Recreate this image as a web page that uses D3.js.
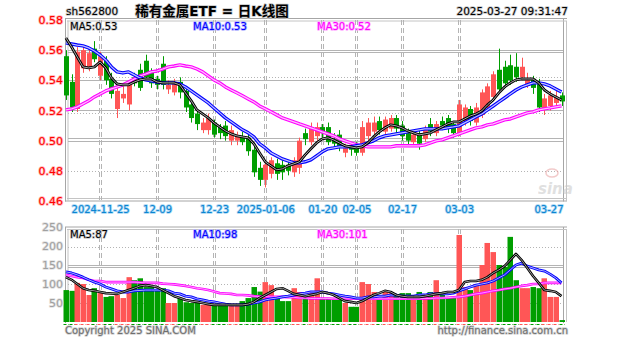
<!DOCTYPE html>
<html>
<head>
<meta charset="utf-8">
<script src="https://cdn.jsdelivr.net/npm/d3@7"></script>
<style>
  html, body { margin: 0; padding: 0; background: #fff; }
  svg { display: block; }
  text { font-family: "DejaVu Sans", "Noto Sans CJK SC", sans-serif; }
</style>
</head>
<body>
<svg id="chart" width="627" height="342"></svg>
<script>
// Trading days shown on the daily K-line
const dates = [
  "2024-11-15","2024-11-18","2024-11-19","2024-11-20","2024-11-21","2024-11-22","2024-11-25","2024-11-26","2024-11-27","2024-11-28","2024-11-29",
  "2024-12-02","2024-12-03","2024-12-04","2024-12-05","2024-12-06","2024-12-09","2024-12-10","2024-12-11","2024-12-12","2024-12-13",
  "2024-12-16","2024-12-17","2024-12-18","2024-12-19","2024-12-20","2024-12-23","2024-12-24","2024-12-25","2024-12-26","2024-12-27",
  "2024-12-30","2024-12-31","2025-01-02","2025-01-03","2025-01-06","2025-01-07","2025-01-08","2025-01-09","2025-01-10","2025-01-13",
  "2025-01-14","2025-01-15","2025-01-16","2025-01-17","2025-01-20","2025-01-21","2025-01-22","2025-01-23","2025-01-24","2025-01-27",
  "2025-02-05","2025-02-06","2025-02-07","2025-02-10","2025-02-11","2025-02-12","2025-02-13","2025-02-14","2025-02-17","2025-02-18",
  "2025-02-19","2025-02-20","2025-02-21","2025-02-24","2025-02-25","2025-02-26","2025-02-27","2025-02-28","2025-03-03","2025-03-04",
  "2025-03-05","2025-03-06","2025-03-07","2025-03-10","2025-03-11","2025-03-12","2025-03-13","2025-03-14","2025-03-17","2025-03-18",
  "2025-03-19","2025-03-20","2025-03-21","2025-03-24","2025-03-25","2025-03-26","2025-03-27"
];

const openPrices = [
  .556,.539,.521,.548,.549,.561,.543,.553,.541,.521,.528,.524,.542,.547,.553,.545,.541,.551,.534,.532,
  .539,.533,.524,.518,.507,.507,.512,.509,.510,.500,.500,.503,.502,.494,.482,.474,.478,.485,.484,.484,
  .479,.482,.505,.499,.503,.509,.509,.501,.504,.492,.497,.497,.492,.503,.506,.513,.506,.508,.515,.510,
  .505,.499,.505,.501,.511,.505,.513,.515,.511,.505,.513,.521,.512,.517,.522,.529,.547,.549,.550,.549,
  .542,.537,.541,.538,.521,.523,.525,.530
];
const highPrices = [
  .560,.544,.562,.563,.561,.566,.559,.556,.545,.536,.536,.540,.545,.551,.557,.548,.543,.556,.540,.541,
  .542,.535,.527,.521,.515,.518,.514,.511,.513,.510,.506,.506,.504,.496,.486,.486,.489,.488,.487,.486,
  .489,.502,.508,.512,.512,.511,.512,.505,.507,.498,.499,.499,.513,.515,.516,.516,.516,.517,.517,.513,
  .508,.507,.507,.510,.515,.513,.516,.517,.513,.527,.524,.523,.525,.534,.538,.546,.561,.553,.557,.558,
  .555,.545,.543,.541,.531,.533,.533,.532
];
const lowPrices = [
  .527,.519,.519,.545,.546,.552,.540,.537,.528,.515,.525,.520,.536,.533,.540,.535,.534,.534,.531,.530,
  .528,.519,.512,.507,.505,.504,.502,.501,.500,.497,.497,.497,.490,.476,.470,.469,.475,.474,.474,.477,
  .476,.478,.497,.497,.500,.502,.497,.495,.493,.489,.490,.490,.490,.500,.504,.504,.503,.506,.505,.500,
  .497,.497,.494,.499,.503,.503,.507,.505,.502,.503,.510,.510,.510,.515,.520,.527,.532,.535,.537,.539,
  .540,.535,.531,.519,.517,.520,.522,.523
];
const closePrices = [
  .530,.522,.559,.560,.558,.554,.556,.540,.531,.533,.531,.537,.538,.535,.542,.538,.537,.537,.537,.538,
  .532,.522,.515,.511,.512,.515,.504,.505,.503,.507,.503,.499,.493,.479,.474,.484,.487,.478,.479,.480,
  .487,.500,.501,.508,.509,.505,.499,.498,.496,.495,.494,.492,.509,.512,.512,.507,.514,.515,.508,.503,
  .500,.504,.498,.508,.506,.511,.510,.508,.505,.524,.522,.513,.522,.532,.536,.544,.534,.538,.540,.542,
  .549,.541,.535,.522,.528,.530,.529,.526
];

// Volume, in units of 10,000 shares
const volumes = [
  84,82,103,100,71,89,76,66,68,71,63,118,110,115,92,92,84,89,50,50,
  63,52,50,50,45,45,45,47,48,45,45,55,63,92,80,105,97,63,55,55,
  89,79,71,76,115,63,62,60,60,50,40,40,105,100,79,63,79,79,71,76,
  76,68,79,71,79,110,76,66,66,229,92,84,100,150,208,184,150,145,224,110,
  89,89,92,89,115,66,66,5
];

// Price moving averages
const ma5 = [
  .5681,.5621,.5555,.5489,.5482,.5489,.5522,.5482,.5416,.5376,.5370,.5370,.5389,.5403,.5409,.5409,.5389,.5383,.5383,.5383,
  .5370,.5317,.5264,.5204,.5177,.5151,.5118,.5091,.5065,.5045,.5032,.5025,.5019,.4979,.4919,.4860,.4833,.4807,.4813,.4833,
  .4846,.4860,.4906,.4946,.4985,.5012,.5019,.5005,.4985,.4966,.4959,.4952,.4959,.4985,.5025,.5058,.5085,.5105,.5098,.5085,
  .5065,.5052,.5038,.5045,.5052,.5072,.5091,.5111,.5124,.5124,.5144,.5164,.5177,.5197,.5237,.5270,.5317,.5356,.5383,.5403,
  .5409,.5409,.5409,.5383,.5336,.5310,.5290,.5270
];
const ma10 = [
  .5648,.5641,.5634,.5628,.5615,.5595,.5568,.5535,.5489,.5456,.5449,.5456,.5436,.5416,.5403,.5396,.5389,.5383,.5383,.5383,
  .5376,.5356,.5330,.5303,.5277,.5250,.5217,.5184,.5151,.5125,.5098,.5072,.5052,.5025,.4979,.4952,.4919,.4899,.4879,.4866,
  .4853,.4853,.4860,.4873,.4899,.4926,.4946,.4952,.4959,.4959,.4959,.4966,.4972,.4985,.4999,.5019,.5032,.5038,.5045,.5052,
  .5058,.5065,.5072,.5078,.5078,.5078,.5078,.5085,.5091,.5098,.5118,.5138,.5158,.5177,.5204,.5230,.5257,.5283,.5310,.5336,
  .5356,.5370,.5383,.5383,.5376,.5363,.5343,.5323
];
const ma30 = [
  .5204,.5211,.5224,.5244,.5264,.5290,.5310,.5330,.5343,.5356,.5370,.5389,.5409,.5429,.5442,.5456,.5462,.5475,.5489,.5495,
  .5502,.5495,.5489,.5475,.5456,.5429,.5403,.5383,.5356,.5336,.5317,.5297,.5277,.5257,.5230,.5211,.5191,.5171,.5151,.5138,
  .5125,.5111,.5098,.5085,.5072,.5058,.5045,.5032,.5012,.4999,.4985,.4972,.4966,.4959,.4959,.4959,.4959,.4959,.4966,.4966,
  .4966,.4966,.4966,.4972,.4985,.4999,.5005,.5019,.5032,.5045,.5058,.5072,.5085,.5091,.5105,.5111,.5125,.5138,.5144,.5158,
  .5171,.5184,.5191,.5204,.5211,.5217,.5224,.5231
];

// Volume moving averages
const volMa5 = [
  118,111,100,89,84,82,79,76,75,74,79,84,89,95,97,95,92,84,76,68,
  63,58,55,53,50,47,45,45,45,45,45,45,47,53,63,71,79,87,89,82,
  74,71,68,71,74,79,76,71,63,55,53,50,55,63,71,76,82,79,71,68,
  66,66,66,68,71,74,76,79,79,84,105,108,108,111,118,129,137,147,163,179,
  163,142,121,103,84,82,79,68
];
const volMa10 = [
  132,129,124,118,111,105,100,92,87,82,79,79,82,83,84,84,84,84,82,76,
  74,68,66,61,58,55,53,50,47,45,45,45,47,50,53,58,61,63,66,68,
  71,74,76,79,79,79,76,74,71,68,66,63,63,66,66,68,68,71,71,68,
  68,68,71,71,74,74,74,74,76,82,87,92,97,100,103,108,116,124,137,150,
  155,147,142,137,134,126,116,103
];
const volMa30 = [
  124,121,118,116,111,108,108,105,105,105,105,105,105,104,103,103,103,101,100,99,
  97,95,92,89,87,84,80,76,75,74,71,71,70,68,67,67,66,66,66,65,
  65,63,63,62,62,62,62,61,61,61,61,61,61,61,61,61,61,61,61,61,
  61,61,61,62,62,63,63,64,65,66,68,71,74,76,79,82,84,87,89,92,
  95,97,100,100,103,103,103,103
];

const priceTicks = [0.58, 0.56, 0.54, 0.52, 0.50, 0.48, 0.46];
const volumeTicks = [250, 200, 150, 100, 50];
const dateTicks = ["2024-11-25","2024-12-09","2024-12-23","2025-01-06","2025-01-20","2025-02-05","2025-02-17","2025-03-03","2025-03-27"];
const dateTickLabels = ["2024-11-25","12-09","12-23","2025-01-06","01-20","02-05","02-17","03-03","03-27"];

const priceLegend = ["MA5:0.53", "MA10:0.53", "MA30:0.52"];
const volumeLegend = ["MA5:87", "MA10:98", "MA30:101"];

// ---------------------------------------------------------------
const svg = d3.select("#chart");
const UP = "#ff5656", DOWN = "#009e00";
const GRID = "#b4b4b4";

const x = d3.scalePoint().domain(dates).range([65.9, 561.5]);
const y = d3.scaleLinear().domain([0.46, 0.58]).range([201, 20]);
const yv = d3.scaleLinear().domain([0, 250]).range([322, 227]);

const candles = dates.map((d, i) => ({
  date: d, o: openPrices[i], h: highPrices[i], l: lowPrices[i], c: closePrices[i], v: volumes[i]
}));
const colorOf = d => d.c >= d.o ? UP : DOWN;

// Panel frames (double grey rules)
function frame(top, bottom, withBottom) {
  const g = svg.append("g").attr("stroke", "#a6a6a6").attr("fill", "none");
  [[65.5, 68], [563.5, 566.5]].forEach(([a, b]) => {
    g.append("line").attr("x1", a).attr("x2", a).attr("y1", top - 1).attr("y2", bottom + 1);
    g.append("line").attr("x1", b).attr("x2", b).attr("y1", top + 1).attr("y2", bottom).attr("stroke", "#c4c4c4");
  });
  g.append("line").attr("x1", 65).attr("x2", 567).attr("y1", top - 1).attr("y2", top - 1);
  g.append("line").attr("x1", 67).attr("x2", 566).attr("y1", top + 1.5).attr("y2", top + 1.5).attr("stroke", "#c4c4c4");
  if (withBottom) {
    g.append("line").attr("x1", 65).attr("x2", 567).attr("y1", bottom + 0.5).attr("y2", bottom + 0.5);
    g.append("line").attr("x1", 67).attr("x2", 566).attr("y1", bottom - 2).attr("y2", bottom - 2).attr("stroke", "#c4c4c4");
  }
}
frame(19.5, 200.5, true);
frame(228, 322, false);

// Horizontal grid rules of the price panel
const priceGrid = [
  [0.56, 0, "solid"], [0.56, 2, "solid"], [0.54, -3, "dot"], [0.54, 0, "solid"],
  [0.52, 0, "solid"], [0.52, 3, "dot"], [0.50, -3, "solid"], [0.50, 0, "solid"], [0.48, 0, "dot"]
];
svg.append("g").selectAll("line").data(priceGrid).join("line")
  .attr("x1", 68).attr("x2", 563)
  .attr("y1", d => Math.round(y(d[0]) + d[1]) + 0.5)
  .attr("y2", d => Math.round(y(d[0]) + d[1]) + 0.5)
  .attr("stroke", GRID)
  .attr("stroke-dasharray", d => d[2] === "dot" ? "1,2" : null);

// Horizontal grid rules of the volume panel
const volumeGrid = [[200, 1, "dot"], [150, 0, "solid"], [150, 2, "solid"], [100, 0, "dot"], [50, 0, "dot"]];
svg.append("g").selectAll("line").data(volumeGrid).join("line")
  .attr("x1", 68).attr("x2", 563)
  .attr("y1", d => Math.round(yv(d[0]) + d[1]) + 0.5)
  .attr("y2", d => Math.round(yv(d[0]) + d[1]) + 0.5)
  .attr("stroke", GRID)
  .attr("stroke-dasharray", d => d[2] === "dot" ? "1,2" : null);

// Vertical dashed rules at the labelled dates
const vTicks = dateTicks.slice(0, -1);
[[20, 200], [229, 322]].forEach(([t, b]) => {
  const g = svg.append("g").attr("stroke", GRID).attr("stroke-dasharray", "5,3");
  vTicks.forEach(d => {
    const cx = Math.round(x(d));
    [-1, 1].forEach(off => {
      g.append("line").attr("x1", cx + off + 0.5).attr("x2", cx + off + 0.5).attr("y1", t).attr("y2", b);
    });
  });
});

// Watermark
const wm = svg.append("g").attr("opacity", 0.55);
wm.append("ellipse").attr("cx", 552).attr("cy", 173).attr("rx", 6).attr("ry", 4)
  .attr("fill", "none").attr("stroke", "#e8a0a0").attr("stroke-width", 1.5);
wm.append("text").attr("x", 538).attr("y", 194).attr("font-size", 15).attr("font-style", "italic")
  .attr("font-weight", "bold").attr("fill", "#c8c8c8").text("sina");

// Candlesticks
const cg = svg.append("g");
cg.selectAll("line").data(candles).join("line")
  .attr("x1", d => Math.round(x(d.date)) + 0.5).attr("x2", d => Math.round(x(d.date)) + 0.5)
  .attr("y1", d => y(d.h)).attr("y2", d => y(d.l))
  .attr("stroke", colorOf);
cg.selectAll("rect").data(candles).join("rect")
  .attr("x", d => Math.round(x(d.date)) - 2)
  .attr("width", 5)
  .attr("y", d => y(Math.max(d.o, d.c)))
  .attr("height", d => Math.max(1, Math.abs(y(d.o) - y(d.c))))
  .attr("fill", colorOf);

// Volume bars
const vg = svg.append("g");
vg.selectAll("rect").data(candles).join("rect")
  .attr("x", d => Math.round(x(d.date)) - 2.5)
  .attr("width", 5.5)
  .attr("y", d => yv(d.v))
  .attr("height", d => yv(0) - yv(d.v))
  .attr("fill", colorOf);
vg.selectAll("line").data(candles).join("line")
  .attr("x1", d => Math.round(x(d.date)) - 2.5).attr("x2", d => Math.round(x(d.date)) + 3)
  .attr("y1", 324.5).attr("y2", 324.5)
  .attr("stroke", colorOf).attr("stroke-dasharray", "3,2");

// Moving-average lines: coloured band with a pale core
function maLine(values, scale, color, outer, inner) {
  const line = d3.line().x((d, i) => x(dates[i])).y(d => scale(d));
  svg.append("path").attr("d", line(values)).attr("fill", "none")
    .attr("stroke", color).attr("stroke-width", outer).attr("stroke-linejoin", "round");
  if (inner > 0) {
    svg.append("path").attr("d", line(values)).attr("fill", "none")
      .attr("stroke", "#fff").attr("stroke-opacity", 0.75).attr("stroke-width", inner);
  }
}
maLine(ma30, y, "#ff00ff", 3.4, 1.2);
maLine(ma10, y, "#0000ff", 3.4, 1.2);
maLine(ma5, y, "#000000", 2.8, 0.9);
maLine(volMa30, yv, "#ff00ff", 2.6, 0.8);
maLine(volMa10, yv, "#0000ff", 2.8, 0.9);
maLine(volMa5, yv, "#000000", 2.6, 0.8);

// Text with a pale halo
function halo(sel, fill, stroke) {
  sel.attr("fill", fill).attr("stroke", stroke).attr("stroke-width", 1.6)
     .attr("paint-order", "stroke").attr("stroke-linejoin", "round");
}

// Price axis labels
const py = svg.append("g").attr("transform", "translate(64,0)")
  .call(d3.axisLeft(y).tickValues(priceTicks).tickFormat(d3.format(".2f")).tickSize(0).tickPadding(1));
py.select(".domain").remove();
py.selectAll("text").attr("font-size", 11).attr("font-family", "DejaVu Sans").call(halo, "#ff0000", "#ffb4b4");

// Volume axis labels
const vy = svg.append("g").attr("transform", "translate(64,0)")
  .call(d3.axisLeft(yv).tickValues(volumeTicks).tickSize(0).tickPadding(1));
vy.select(".domain").remove();
vy.selectAll("text").attr("font-size", 11).attr("font-family", "DejaVu Sans").call(halo, "#a0a0a0", "#e2e2e2");

// Date axis labels
const dx = svg.append("g").attr("transform", "translate(0,204)")
  .call(d3.axisBottom(x).tickValues(dateTicks).tickFormat((d, i) => dateTickLabels[i]).tickSize(0).tickPadding(2));
dx.select(".domain").remove();
dx.selectAll("text").attr("font-size", 10).attr("font-family", "DejaVu Sans").call(halo, "#0a84d0", "#a6d6f4");
dx.selectAll(".tick").filter(d => d === dates[dates.length - 1]).select("text")
  .attr("text-anchor", "end").attr("x", 1.5);

// Header
halo(svg.append("text").attr("x", 66).attr("y", 15).attr("font-size", 10.5).text("sh562800"), "#000", "#c8c8c8");
halo(svg.append("text").attr("x", 212).attr("y", 16).attr("text-anchor", "middle")
  .attr("font-size", 13.5).attr("font-weight", "bold").text("稀有金属ETF = 日K线图"), "#000", "#c8c8c8");
halo(svg.append("text").attr("x", 568).attr("y", 15).attr("text-anchor", "end")
  .attr("font-size", 10.5).text("2025-03-27 09:31:47"), "#000", "#c8c8c8");

// Legends
const legendX = [70, 193, 317];
const legendColors = ["#000000", "#0000ff", "#ff00ff"];
const legendHalo = ["#c8c8c8", "#b0b0ff", "#ffb0ff"];
priceLegend.forEach((t, i) => halo(svg.append("text").attr("x", legendX[i]).attr("y", 30)
  .attr("font-size", 10).text(t), legendColors[i], legendHalo[i]));
volumeLegend.forEach((t, i) => halo(svg.append("text").attr("x", legendX[i]).attr("y", 238)
  .attr("font-size", 10).text(t), legendColors[i], legendHalo[i]));

// Footer
halo(svg.append("text").attr("x", 65).attr("y", 334).attr("font-size", 10)
  .text("Copyright 2025 SINA.COM"), "#6e6e6e", "#d4d4d4");
halo(svg.append("text").attr("x", 568).attr("y", 334).attr("text-anchor", "end").attr("font-size", 10)
  .text("http://finance.sina.com.cn"), "#6e6e6e", "#d4d4d4");
</script>
</body>
</html>
